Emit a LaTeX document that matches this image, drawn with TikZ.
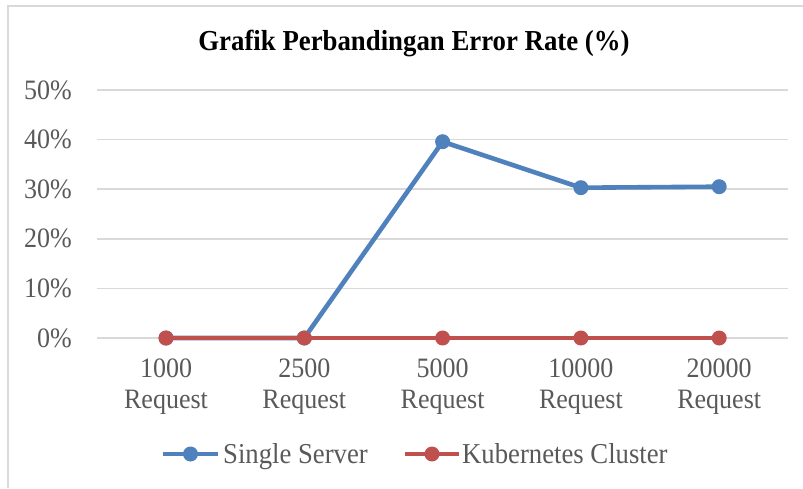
\documentclass[tikz,border=0pt]{standalone}
\usepackage{fontspec}
\usepackage{graphicx}
\setmainfont{Liberation Serif}
\definecolor{txt}{HTML}{595959}
\definecolor{gridc}{HTML}{D9D9D9}
\definecolor{blu}{HTML}{4F81BD}
\definecolor{rd}{HTML}{C0504D}
\newcommand{\tall}[1]{\scalebox{1}[1.08]{#1}}
\begin{document}
\begin{tikzpicture}[x=1pt,y=-1pt,
  gridline/.style={gridc,line width=1.5pt},
  lbl/.style={text=txt,inner sep=0pt,font=\fontsize{26}{30.3}\selectfont},
  leg/.style={lbl,font=\fontsize{26.7}{30.3}\selectfont},
  ser/.style={line width=4.6pt,line join=round},
  dot/.style={circle,inner sep=0pt,minimum size=15pt}]
\useasboundingbox (0,0) rectangle (803,488);
\coordinate (fb) at (8,488);
\coordinate (ftl) at (8,6);
\coordinate (ftr) at (803,6);
\draw[gridc,line width=1.5pt] (fb) -- (ftl) -- (ftr);
\node[inner sep=0pt,anchor=base,font=\fontsize{26.8}{30}\selectfont\bfseries] (title) at (414,50) {\tall{Grafik Perbandingan Error Rate (\%)}};
\foreach \i/\t in {0/0\%,1/10\%,2/20\%,3/30\%,4/40\%,5/50\%}{
  \coordinate (gl\i) at (97,{338-49.6*\i});
  \coordinate (gr\i) at (788,{338-49.6*\i});
  \draw[gridline] (gl\i) -- (gr\i);
  \node[lbl,anchor=east] (yl\i) at (72,{338-49.6*\i}) {\tall{\t}};
}
\foreach \n/\x/\t in {c1/166/1000,c2/304.3/2500,c3/442.6/5000,c4/580.9/10000,c5/719.2/20000}{
  \node[lbl,anchor=base,align=center] (\n) at (\x,408) {\tall{\t}\\\tall{Request}};
}
% single server
\coordinate (s1) at (166,338);
\coordinate (s2) at (304.3,338);
\coordinate (s3) at (442.6,141.7);
\coordinate (s4) at (580.9,187.7);
\coordinate (s5) at (719.2,186.7);
\draw[ser,blu] (s1) -- (s2) -- (s3) -- (s4) -- (s5);
\foreach \p in {s1,s2,s3,s4,s5}{\node[dot,fill=blu] (d\p) at (\p) {};}
% kubernetes
\coordinate (k1) at (166,338);
\coordinate (k2) at (304.3,338);
\coordinate (k3) at (442.6,338);
\coordinate (k4) at (580.9,338);
\coordinate (k5) at (719.2,338);
\draw[ser,rd] (k1) -- (k2) -- (k3) -- (k4) -- (k5);
\foreach \p in {k1,k2,k3,k4,k5}{\node[dot,fill=rd] (d\p) at (\p) {};}
% legend
\coordinate (lb1) at (163,454);
\coordinate (lb2) at (218,454);
\draw[ser,blu] (lb1) -- (lb2);
\node[dot,fill=blu] (lbd) at (190.5,454) {};
\node[leg,anchor=base west] (lbt) at (223,463) {\tall{Single Server}};
\coordinate (lr1) at (405,454);
\coordinate (lr2) at (459,454);
\draw[ser,rd] (lr1) -- (lr2);
\node[dot,fill=rd] (lrd) at (432,454) {};
\node[leg,anchor=base west] (lrt) at (462,463) {\tall{Kubernetes Cluster}};
\end{tikzpicture}
\end{document}
